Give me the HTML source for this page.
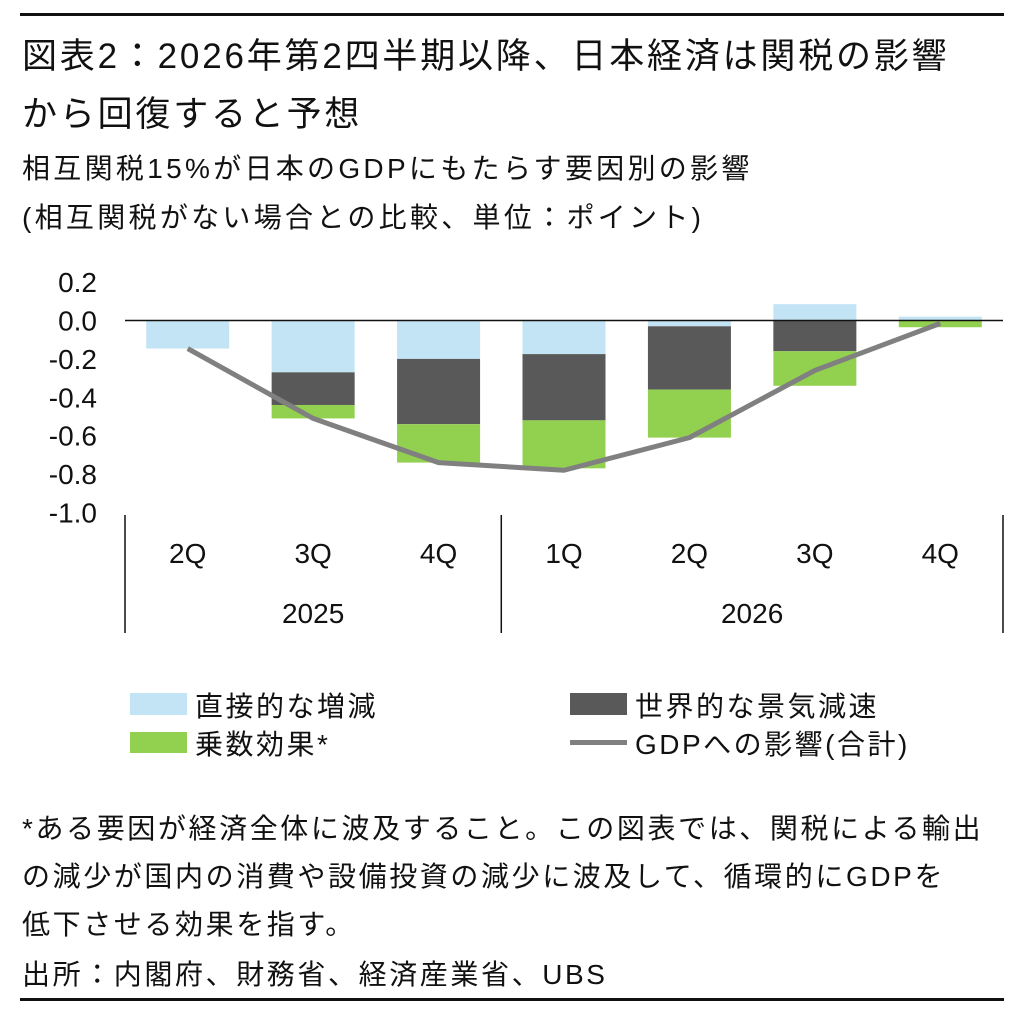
<!DOCTYPE html>
<html><head><meta charset="utf-8">
<style>
html,body{margin:0;padding:0;background:#fff;}
body{width:1024px;height:1015px;position:relative;overflow:hidden;font-family:"Liberation Sans","Noto Sans CJK JP",sans-serif;color:#111;}
.t{position:absolute;white-space:nowrap;}
</style></head>
<body>
<div style="position:absolute;left:20px;top:13px;width:984px;height:3px;background:#111"></div>
<div class="t" style="left:22px;top:28px;font-size:35px;letter-spacing:2.8px;line-height:58px">図表2：2026年第2四半期以降、日本経済は関税の影響<br>から回復すると予想</div>
<div class="t" style="left:22px;top:144px;font-size:28px;letter-spacing:3.3px;line-height:49px">相互関税15%が日本のGDPにもたらす要因別の影響<br>(相互関税がない場合との比較、単位：ポイント)</div>
<svg id="chart" width="1024" height="680" style="position:absolute;left:0;top:0" font-family="Liberation Sans, Noto Sans CJK JP, sans-serif"></svg>
<div class="t" style="left:22px;top:805px;font-size:28px;letter-spacing:2.6px;line-height:48px">*ある要因が経済全体に波及すること。この図表では、関税による輸出<br>の減少が国内の消費や設備投資の減少に波及して、循環的にGDPを<br>低下させる効果を指す。</div>
<div class="t" style="left:22px;top:953px;font-size:28px;letter-spacing:2.6px;line-height:44px">出所：内閣府、財務省、経済産業省、UBS</div>
<div style="position:absolute;left:20px;top:998px;width:984px;height:3px;background:#111"></div>
<script>
const categories=["2Q","3Q","4Q","1Q","2Q","3Q","4Q"];
const years=["2025","2026"];
const direct=[-0.146,-0.27,-0.2,-0.175,-0.03,0.085,0.02];
const world=[0,-0.17,-0.34,-0.345,-0.33,-0.16,0];
const multiplier=[0,-0.07,-0.2,-0.25,-0.25,-0.18,-0.035];
const total=[-0.146,-0.51,-0.74,-0.78,-0.61,-0.26,-0.015];
const yTicks=[0.2,0,-0.2,-0.4,-0.6,-0.8,-1.0];

const svg=document.getElementById('chart');
const NS='http://www.w3.org/2000/svg';
const x0=125,x1=1003,catW=(x1-x0)/categories.length,barW=83;
const y=v=>320.5-v*192;
const xc=i=>x0+catW*(i+0.5);
function mk(tag,attrs,name){const e=document.createElementNS(NS,tag);for(const k in attrs)e.setAttribute(k,attrs[k]);


svg.appendChild(e);return e;}
yTicks.forEach(v=>{const t=mk('text',{x:97,y:y(v)+10,'text-anchor':'end','font-size':28,fill:'#111'},'y-tick-label');t.textContent=v.toFixed(1);});
const colors={d:'#c2e4f4',w:'#595959',m:'#92d050'};
categories.forEach((c,i)=>{
  const d=direct[i],w=world[i],m=multiplier[i];
  let pos=0,neg=0;
  [[d,colors.d,'bar-direct'],[w,colors.w,'bar-world'],[m,colors.m,'bar-multiplier']].forEach(([v,col,nm])=>{
    if(v===0)return;
    let a,b;
    if(v>0){a=pos;b=pos+v;pos=b;}else{a=neg;b=neg+v;neg=b;}
    const top=Math.min(y(a),y(b)),h=Math.abs(y(a)-y(b));
    mk('rect',{x:xc(i)-barW/2,y:top,width:barW,height:h,fill:col},nm);
  });
  const t=mk('text',{x:xc(i),y:563,'text-anchor':'middle','font-size':28,fill:'#111'},'x-tick-label');t.textContent=c;
});
mk('line',{x1:x0,x2:x1,y1:y(0),y2:y(0),stroke:'#111','stroke-width':1.5},'zero-line');
mk('polyline',{points:total.map((v,i)=>xc(i)+','+y(v)).join(' '),fill:'none',stroke:'#808080','stroke-width':5,'stroke-linejoin':'round'},'gdp-total-line');
[x0,x0+catW*3,x1].forEach(xx=>mk('line',{x1:xx,x2:xx,y1:515,y2:633,stroke:'#111','stroke-width':1.5},'year-separator'));
years.forEach((yr,j)=>{const cx=j===0?x0+catW*1.5:x0+catW*5;const t=mk('text',{x:cx,y:623,'text-anchor':'middle','font-size':28,fill:'#111'},'year-label');t.textContent=yr;});
</script>
<div>
<div style="position:absolute;left:130px;top:693px;width:57px;height:22px;background:#c2e4f4"></div>
<div class="t" style="left:195px;top:685px;font-size:28px;letter-spacing:2.5px">直接的な増減</div>
<div style="position:absolute;left:570px;top:693px;width:57px;height:22px;background:#595959"></div>
<div class="t" style="left:635px;top:685px;font-size:28px;letter-spacing:2.5px">世界的な景気減速</div>
<div style="position:absolute;left:130px;top:732px;width:57px;height:21px;background:#92d050"></div>
<div class="t" style="left:195px;top:723px;font-size:28px;letter-spacing:2.5px">乗数効果*</div>
<div style="position:absolute;left:570px;top:740px;width:57px;height:5px;background:#808080"></div>
<div class="t" style="left:635px;top:723px;font-size:28px;letter-spacing:2.5px">GDPへの影響(合計)</div>
</div>
</body></html>
